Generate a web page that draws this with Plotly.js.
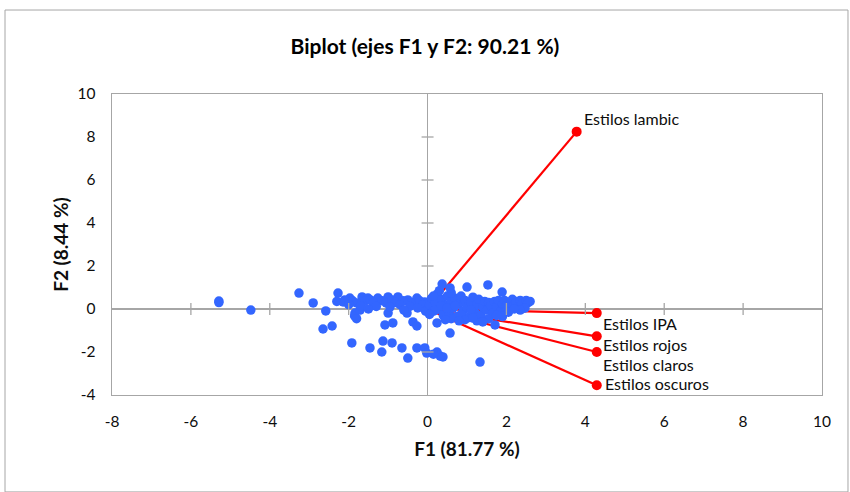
<!DOCTYPE html>
<html>
<head>
<meta charset="utf-8">
<script src="https://cdn.plot.ly/plotly-3.0.1.min.js"></script>
<style>html,body{margin:0;padding:0;background:#fff;}#chart{width:850px;height:492px;}</style>
</head>
<body>
<div id="chart"></div>
<script>
// Observations (F1, F2)
const obsF1 = [
  -5.29,-5.29,-4.48,-3.26,-2.90,-2.58,-2.27,-2.14,-1.97,-2.65,-2.42,-1.92,-1.84,-1.85,-1.80,
  -1.66,-1.51,-1.26,-1.00,-0.75,-0.50,-0.27,-0.07,-1.71,-1.00,-0.52,-1.08,-0.88,-0.37,-0.27,
  -1.13,-0.90,-1.46,-1.16,-0.65,-0.27,-0.07,-0.02,-0.50,
  -2.30,-2.10,-1.90,-1.80,-1.60,-1.45,-1.38,-1.15,-1.05,-0.90,-0.82,-0.62,-0.40,-0.20,-0.12,
  -1.70,-1.30,-0.95,-0.70,-0.45,-0.25,-0.05,-2.00,-0.60,-1.50,
  0.05,0.10,0.15,0.20,0.25,0.30,0.35,0.40,0.45,0.50,0.55,0.60,0.65,0.70,0.75,0.80,0.85,0.90,0.95,1.00,
  1.05,1.10,1.15,1.20,1.25,1.30,1.35,1.40,1.45,1.50,1.55,1.60,1.65,1.70,1.75,1.80,1.85,1.90,1.95,2.00,
  2.05,2.10,2.15,2.20,2.25,2.30,2.35,2.40,2.45,2.50,2.55,2.60,
  0.20,0.35,0.50,0.60,0.70,0.85,0.95,1.10,0.30,0.60,0.45,0.15,0.05,1.25,1.55,1.90,
  0.37,0.57,1.00,1.53,1.89,0.24,0.57,1.33,1.15,1.71,0.24,0.39,0.32,0.15,
  2.47,2.35,2.20,0.80,1.40,1.75
];
const obsF2 = [
  0.37,0.30,-0.05,0.74,0.28,-0.09,0.74,0.33,0.51,-0.93,-0.79,-1.58,-0.19,-0.32,-0.45,
  0.56,0.51,0.51,0.56,0.56,0.42,0.51,0.33,-0.05,-0.19,-0.19,-0.74,-0.65,-0.60,-0.79,
  -1.49,-1.58,-1.81,-2.00,-1.81,-1.81,-1.81,-2.05,-2.28,
  0.35,0.42,0.38,0.28,0.35,0.42,0.30,0.38,0.28,0.42,0.30,0.38,0.30,0.38,0.20,
  0.15,0.12,0.10,0.20,0.12,0.05,-0.10,0.20,-0.05,0.00,
  0.20,0.50,-0.10,0.30,0.70,0.00,0.45,-0.30,0.20,0.60,-0.20,0.35,0.05,0.50,-0.35,0.25,0.60,-0.10,0.40,0.10,
  -0.40,0.30,0.55,-0.15,0.20,0.45,-0.30,0.10,0.35,-0.05,0.30,0.15,-0.20,0.35,0.10,0.40,-0.10,0.25,0.40,0.15,
  -0.15,0.30,0.45,0.20,0.35,0.10,0.40,0.25,0.05,0.40,0.30,0.35,
  -0.05,0.15,0.05,-0.45,0.15,-0.25,-0.50,-0.05,0.85,0.75,-0.50,0.60,-0.25,-0.55,-0.45,-0.35,
  1.16,0.98,1.02,1.12,0.79,-0.65,-1.12,-2.47,-0.42,-0.74,-2.00,-2.23,-2.19,-2.10,
  0.05,-0.05,0.00,-0.55,-0.60,-0.30
];

// Variable loadings
const varNames = ['Estilos lambic','Estilos IPA','Estilos rojos','Estilos claros','Estilos oscuros'];
const varF1 = [3.78, 4.29, 4.29, 4.29, 4.29];
const varF2 = [8.25, -0.19, -1.27, -2.00, -3.55];

// Axis ticks
const xTicks = [-8,-6,-4,-2,0,2,4,6,8,10];
const yTicks = [-4,-2,0,2,4,6,8,10];

const lineX = [], lineY = [];
varF1.forEach((v,i)=>{ lineX.push(0, v, null); lineY.push(0, varF2[i], null); });

const traces = [
  {x: lineX, y: lineY, mode:'lines', type:'scatter', line:{color:'#ff0000', width:2.2}, hoverinfo:'skip'},
  {x: varF1, y: varF2, mode:'markers', type:'scatter', marker:{color:'#ff0000', size:10}},
  {x: obsF1, y: obsF2, mode:'markers', type:'scatter', marker:{color:'#3366ff', size:9.5}}
];

const labelShift = [[6,13],[5,-10],[5,-8],[5,-12],[7,2]];
const annotations = varNames.map((n,i)=>({
  x: varF1[i], y: varF2[i], xref:'x', yref:'y', text:n, showarrow:false,
  xanchor:'left', yanchor:'middle', xshift:labelShift[i][0], yshift:labelShift[i][1],
  borderpad:0,
  font:{family:'Lato, sans-serif', size:16, color:'#0d0d0d'}
}));

const grey = '#a6a6a6';
const shapes = [];
xTicks.filter(t=>t!==0 && t!==xTicks[0] && t!==xTicks[xTicks.length-1]).forEach(t=>{
  shapes.push({type:'line', xref:'x', yref:'y', ysizemode:'pixel', yanchor:0, x0:t, x1:t, y0:-6, y1:6, line:{color:grey, width:1.3}});
});
yTicks.filter(t=>t!==0 && t!==yTicks[0] && t!==yTicks[yTicks.length-1]).forEach(t=>{
  shapes.push({type:'line', xref:'x', yref:'y', xsizemode:'pixel', xanchor:0, x0:-6, x1:6, y0:t, y1:t, line:{color:grey, width:1.3}});
});
// outer chart frame
shapes.push({type:'rect', xref:'paper', yref:'paper', x0:-0.1507, x1:1.0366, y0:-0.322, y1:1.279, line:{color:'#a6a6a6', width:1}, layer:'below'});

const layout = {
  width:850, height:492,
  margin:{l:112, r:28, t:94, b:97},
  paper_bgcolor:'#ffffff', plot_bgcolor:'#ffffff',
  showlegend:false,
  font:{family:'Lato, sans-serif', color:'#0d0d0d'},
  title:{text:'<b>Biplot (ejes F1 y F2: 90.21 %)</b>', x:0.5, xref:'container', xanchor:'center', y:0.905, yanchor:'middle',
         font:{family:'Lato, sans-serif', size:21, color:'#000'}},
  xaxis:{range:[-8,10], tickvals:xTicks, ticktext:xTicks.map(String), showgrid:false,
         zeroline:true, zerolinecolor:grey, zerolinewidth:1.5,
         showline:true, linecolor:grey, linewidth:1.3, mirror:true,
         ticks:'outside', ticklen:12, tickcolor:'rgba(0,0,0,0)',
         tickfont:{family:'Lato, sans-serif', size:15.5, color:'#0d0d0d'},
         title:{text:'<b>F1 (81.77 %)</b>', standoff:13, font:{family:'Lato, sans-serif', size:19, color:'#0d0d0d'}}},
  yaxis:{range:[-4,10], tickvals:yTicks, ticktext:yTicks.map(String), showgrid:false,
         zeroline:true, zerolinecolor:grey, zerolinewidth:1.5,
         showline:true, linecolor:grey, linewidth:1.3, mirror:true,
         ticks:'outside', ticklen:12, tickcolor:'rgba(0,0,0,0)',
         tickfont:{family:'Lato, sans-serif', size:15.5, color:'#0d0d0d'},
         title:{text:'<b>F2 (8.44 %)</b>', standoff:4, font:{family:'Lato, sans-serif', size:19, color:'#0d0d0d'}}},
  shapes:shapes,
  annotations:annotations
};

Plotly.newPlot('chart', traces, layout, {displayModeBar:false, staticPlot:true});
</script>
</body>
</html>
